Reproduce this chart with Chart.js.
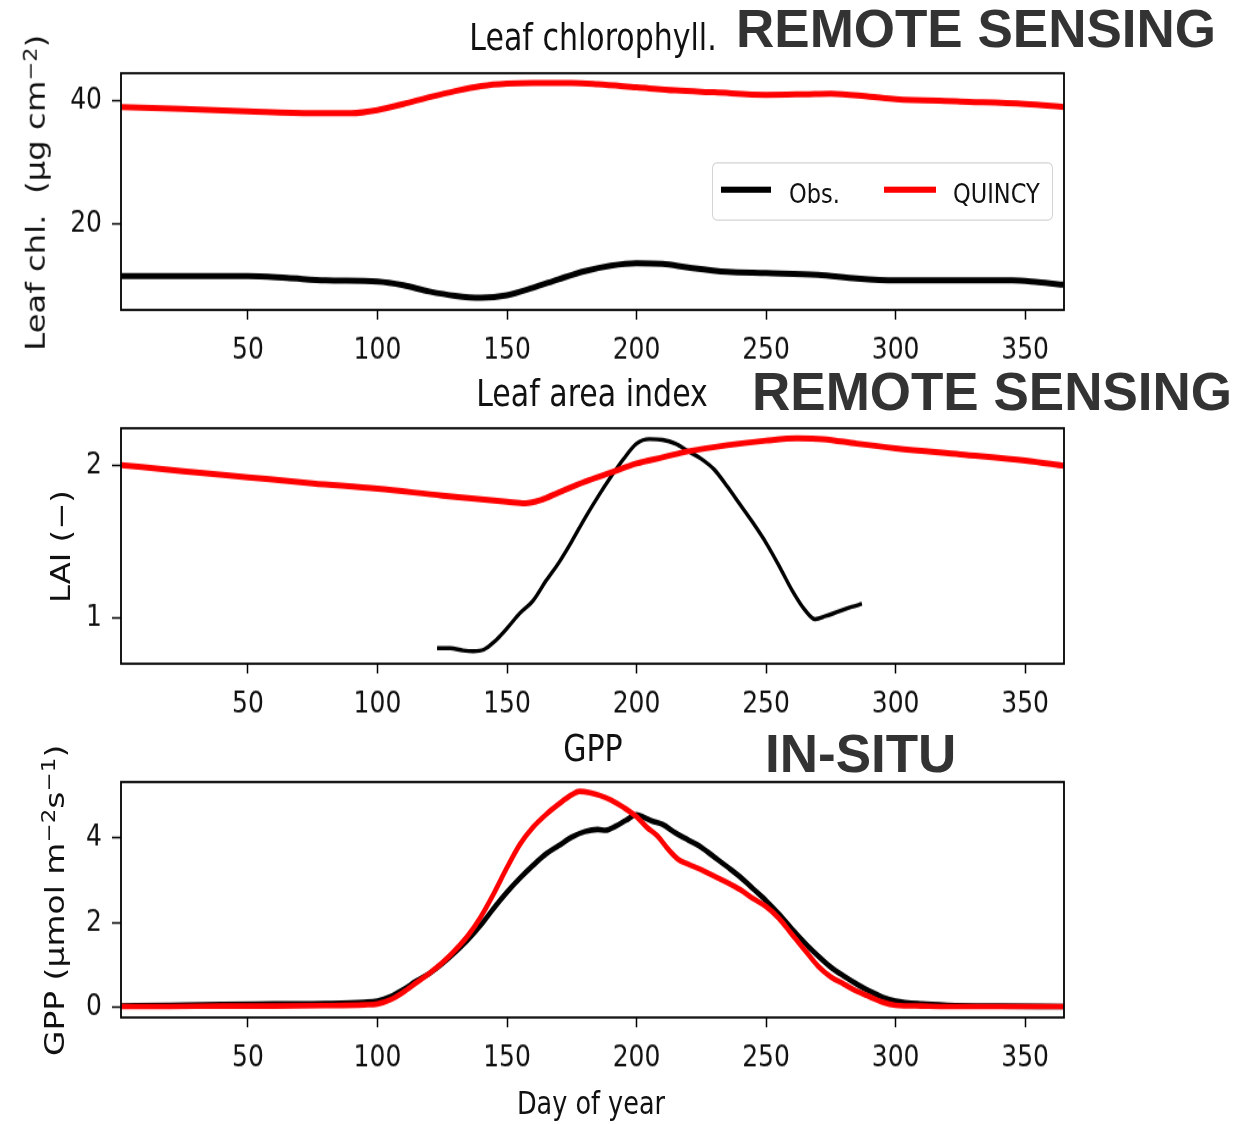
<!DOCTYPE html>
<html>
<head>
<meta charset="utf-8">
<title>Leaf chlorophyll, LAI and GPP</title>
<script src="https://cdn.jsdelivr.net/npm/chart.js@4.4.1/dist/chart.umd.min.js"></script>
<style>
  html, body { margin: 0; padding: 0; background: #fff; }
  body { width: 1248px; height: 1124px; position: relative; overflow: hidden; }
  #fig { position: absolute; left: 0; top: 0; width: 1248px; transform-origin: 0 0; }
  #fig canvas { position: absolute; left: 0; }
  .mpl { position: absolute; font-family: 'DejaVu Sans', sans-serif; color: #111; line-height: 1; white-space: nowrap; }
  .mpl sup { font-size: 0.7em; line-height: 0; vertical-align: 0.45em; }
  .title { transform: translateX(-50%); }
  .ylab { transform: translate(-50%, -50%) rotate(-90deg); }
  .legend { position: absolute; box-sizing: border-box; border: 1.5px solid #d4d4d4; border-radius: 5px; background: rgba(255,255,255,0.8); }
  .legend .swatch { position: absolute; }
  .tag { position: absolute; font-family: 'Liberation Sans', Arial, sans-serif; font-weight: bold; font-size: 53px; line-height: 1; color: #333; white-space: nowrap; }
</style>
</head>
<body>
<div id="fig">
  <canvas id="chl"></canvas>
  <canvas id="lai"></canvas>
  <canvas id="gpp"></canvas>
</div>
<div class="tag" style="left:736px; top:2px;">REMOTE SENSING</div>
<div class="tag" style="left:752px; top:365px;">REMOTE SENSING</div>
<div class="tag" style="left:765px; top:727px;">IN-SITU</div>

<script>
// ---- data ----
const dayTicks = [50, 100, 150, 200, 250, 300, 350];
const dayRange = [1, 365];

// leaf chlorophyll (ug cm-2)
const chlTicks = [20, 40];
const chlRange = [6.0, 44.5];
const chlObsDays = [1, 25, 50, 65, 80, 100, 110, 120, 130, 140, 150, 160, 170, 180, 190, 200, 210, 220, 235, 250, 270, 285, 300, 325, 345, 355, 365];
const chlObs     = [11.5, 11.5, 11.5, 11.2, 10.8, 10.6, 10.0, 9.0, 8.3, 8.0, 8.4, 9.6, 11.0, 12.3, 13.2, 13.6, 13.5, 12.9, 12.2, 12.0, 11.7, 11.1, 10.8, 10.8, 10.8, 10.5, 10.1];
const chlModDays = [1, 25, 50, 75, 90, 100, 110, 120, 130, 140, 150, 160, 175, 185, 200, 215, 230, 250, 265, 275, 290, 300, 325, 350, 365];
const chlMod     = [39.0, 38.7, 38.3, 38.0, 38.0, 38.5, 39.5, 40.6, 41.6, 42.4, 42.8, 42.9, 42.9, 42.7, 42.2, 41.7, 41.4, 41.0, 41.1, 41.2, 40.7, 40.3, 39.9, 39.5, 39.0];

// leaf area index (-)
const laiTicks = [1, 2];
const laiRange = [0.698, 2.241];
const laiObsDays = [123, 128, 133, 137, 141, 145, 150, 155, 160, 165, 170, 175, 180, 185, 190, 195, 200, 205, 210, 215, 220, 225, 230, 235, 240, 245, 250, 255, 260, 265, 269, 273, 278, 283, 287];
const laiObs     = [0.80, 0.80, 0.785, 0.78, 0.79, 0.84, 0.93, 1.03, 1.11, 1.24, 1.36, 1.50, 1.65, 1.79, 1.92, 2.04, 2.14, 2.17, 2.165, 2.14, 2.09, 2.04, 1.97, 1.86, 1.74, 1.62, 1.49, 1.34, 1.18, 1.05, 0.99, 1.01, 1.04, 1.07, 1.09];
const laiModDays = [1, 25, 50, 75, 100, 125, 150, 157, 163, 170, 180, 190, 200, 210, 220, 235, 250, 262, 272, 285, 300, 325, 350, 365];
const laiMod     = [2.00, 1.96, 1.92, 1.88, 1.845, 1.80, 1.76, 1.75, 1.77, 1.82, 1.89, 1.95, 2.01, 2.05, 2.09, 2.13, 2.16, 2.175, 2.17, 2.14, 2.11, 2.07, 2.03, 1.995];

// gross primary production (umol m-2 s-1)
const gppTicks = [0, 2, 4];
const gppRange = [-0.24, 5.32];
const gppObsDays = [1, 20, 40, 60, 80, 95, 100, 105, 110, 115, 120, 125, 130, 135, 140, 145, 150, 155, 160, 165, 170, 175, 180, 185, 188, 192, 196, 200, 203, 206, 210, 215, 220, 225, 230, 235, 240, 245, 250, 255, 260, 265, 270, 275, 280, 285, 290, 295, 300, 310, 320, 340, 365];
const gppObs     = [0.03, 0.05, 0.07, 0.08, 0.09, 0.12, 0.15, 0.25, 0.42, 0.62, 0.80, 1.03, 1.30, 1.60, 1.95, 2.35, 2.72, 3.05, 3.35, 3.62, 3.82, 4.02, 4.15, 4.20, 4.18, 4.28, 4.42, 4.55, 4.48, 4.40, 4.32, 4.12, 3.95, 3.78, 3.55, 3.32, 3.08, 2.80, 2.52, 2.20, 1.85, 1.52, 1.22, 0.95, 0.74, 0.55, 0.38, 0.24, 0.15, 0.08, 0.05, 0.03, 0.02];
const gppModDays = [1, 20, 40, 60, 80, 95, 100, 105, 110, 115, 120, 125, 130, 135, 140, 145, 150, 155, 160, 165, 170, 175, 178, 182, 186, 190, 195, 200, 204, 208, 212, 216, 220, 225, 230, 235, 240, 245, 250, 255, 260, 265, 270, 275, 280, 285, 290, 295, 300, 310, 320, 340, 365];
const gppMod     = [0.02, 0.02, 0.03, 0.03, 0.04, 0.06, 0.08, 0.18, 0.36, 0.58, 0.80, 1.05, 1.35, 1.70, 2.15, 2.70, 3.30, 3.85, 4.25, 4.55, 4.80, 5.02, 5.10, 5.07, 5.00, 4.90, 4.72, 4.50, 4.25, 4.05, 3.75, 3.50, 3.38, 3.25, 3.10, 2.95, 2.78, 2.57, 2.38, 2.10, 1.72, 1.35, 0.98, 0.72, 0.55, 0.38, 0.25, 0.12, 0.05, 0.03, 0.02, 0.02, 0.02];

// ---- layout ----
const K = 1.22;                 // the whole figure is stretched vertically by this factor
const PLOT_LEFT = 121, PLOT_RIGHT = 1064, PAGE_W = 1248;
const PAD_TOP = 6, X_AXIS_H = 60;
const TICK_FONT = { family: 'DejaVu Sans', size: 25 };

const fig = document.getElementById('fig');
fig.style.height = (1124 / K) + 'px';
fig.style.transform = 'scaleY(' + K + ')';

const pts = (xs, ys) => xs.map((x, i) => ({ x: x, y: ys[i] }));

// matplotlib-style closed frame around the plot area
const frame = {
  id: 'frame',
  afterDatasetsDraw(chart) {
    const { ctx, chartArea: a } = chart;
    ctx.save();
    ctx.strokeStyle = '#000';
    ctx.lineWidth = 1.8;
    ctx.strokeRect(a.left, a.top, a.right - a.left, a.bottom - a.top);
    ctx.restore();
  }
};

function panel(id, top, bottom, yTicks, yRange, series) {
  const canvas = document.getElementById(id);
  canvas.width = PAGE_W;
  canvas.height = Math.round((bottom - top) / K + PAD_TOP + X_AXIS_H);

  const chart = new Chart(canvas, {
    type: 'line',
    data: {
      datasets: series.map(s => ({
        data: pts(s.x, s.y),
        borderColor: s.color,
        borderWidth: s.width,
        order: s.order,
        pointRadius: 0,
        fill: false,
        cubicInterpolationMode: 'monotone'
      }))
    },
    options: {
      responsive: false,
      animation: false,
      events: [],
      layout: { padding: { top: PAD_TOP, right: PAGE_W - PLOT_RIGHT, left: 0, bottom: 0 } },
      plugins: { legend: { display: false }, tooltip: { enabled: false } },
      scales: {
        x: {
          type: 'linear',
          min: dayRange[0],
          max: dayRange[1],
          afterBuildTicks: s => { s.ticks = dayTicks.map(v => ({ value: v })); },
          afterFit: s => { s.height = X_AXIS_H; s.paddingLeft = 0; s.paddingRight = 0; },
          border: { display: false },
          grid: { drawOnChartArea: false, drawTicks: true, tickLength: 8, tickWidth: 1.5, tickColor: '#000' },
          ticks: { font: TICK_FONT, color: '#111', padding: 10, maxRotation: 0, autoSkip: false }
        },
        y: {
          type: 'linear',
          min: yRange[0],
          max: yRange[1],
          afterBuildTicks: s => { s.ticks = yTicks.map(v => ({ value: v })); },
          afterFit: s => { s.width = PLOT_LEFT; s.paddingTop = 0; s.paddingBottom = 0; },
          border: { display: false },
          grid: { drawOnChartArea: false, drawTicks: true, tickLength: 9, tickWidth: 1.5, tickColor: '#000' },
          ticks: { font: TICK_FONT, color: '#111', padding: 10, autoSkip: false }
        }
      }
    },
    plugins: [frame]
  });
  // line the plot area up with the panel's top edge
  canvas.style.top = (top / K - chart.chartArea.top) + 'px';
}

panel('chl', 73.3, 310, chlTicks, chlRange, [
  { x: chlObsDays, y: chlObs, color: '#000', width: 5, order: 1 },
  { x: chlModDays, y: chlMod, color: '#ff0000', width: 5, order: 0 }
]);
panel('lai', 428.3, 663.3, laiTicks, laiRange, [
  { x: laiObsDays, y: laiObs, color: '#000', width: 3.4, order: 1 },
  { x: laiModDays, y: laiMod, color: '#ff0000', width: 5, order: 0 }
]);
panel('gpp', 782.3, 1017.3, gppTicks, gppRange, [
  { x: gppObsDays, y: gppObs, color: '#000', width: 4.6, order: 1 },
  { x: gppModDays, y: gppMod, color: '#ff0000', width: 4.6, order: 0 }
]);

// ---- text inside the stretched figure ----
function text(cls, html, x, baseline, size) {
  const el = document.createElement('div');
  el.className = 'mpl ' + cls;
  el.innerHTML = html;
  el.style.fontSize = size + 'px';
  el.style.left = x + 'px';
  el.style.top = (baseline / K - 0.846 * size) + 'px';
  fig.appendChild(el);
  return el;
}
function ylabel(html, cx, cy, size) {
  const el = document.createElement('div');
  el.className = 'mpl ylab';
  el.innerHTML = html;
  el.style.fontSize = size + 'px';
  el.style.left = cx + 'px';
  el.style.top = (cy / K) + 'px';
  fig.appendChild(el);
}

text('title', 'Leaf chlorophyll.', 593, 50, 30);
text('title', 'Leaf area index', 592, 407, 30);
text('title', 'GPP', 593, 761.5, 30);
text('title', 'Day of year', 591, 1115, 25.5);

ylabel('Leaf chl. &nbsp;(μg cm<sup>−2</sup>)', 36, 193, 26.5);
ylabel('LAI (−)', 61, 546, 26.5);
ylabel('GPP (μmol m<sup>−2</sup>s<sup>−1</sup>)', 54, 900, 27);

// legend of the top panel
const legend = document.createElement('div');
legend.className = 'legend';
legend.style.left = '712px';
legend.style.top = (162 / K) + 'px';
legend.style.width = '341px';
legend.style.height = (59 / K) + 'px';
fig.appendChild(legend);
[
  { label: 'Obs.', color: '#000', x0: 8, x1: 58, tx: 76 },
  { label: 'QUINCY', color: '#ff0000', x0: 171, x1: 223, tx: 240 }
].forEach(item => {
  const sw = document.createElement('div');
  sw.className = 'swatch';
  sw.style.left = item.x0 + 'px';
  sw.style.width = (item.x1 - item.x0) + 'px';
  sw.style.top = (26 / K - 2.5) + 'px';
  sw.style.height = '5px';
  sw.style.background = item.color;
  legend.appendChild(sw);
  const t = document.createElement('div');
  t.className = 'mpl';
  t.textContent = item.label;
  t.style.fontSize = '22.5px';
  t.style.left = item.tx + 'px';
  t.style.top = (39 / K - 0.846 * 22.5) + 'px';
  legend.appendChild(t);
});
</script>
</body>
</html>
